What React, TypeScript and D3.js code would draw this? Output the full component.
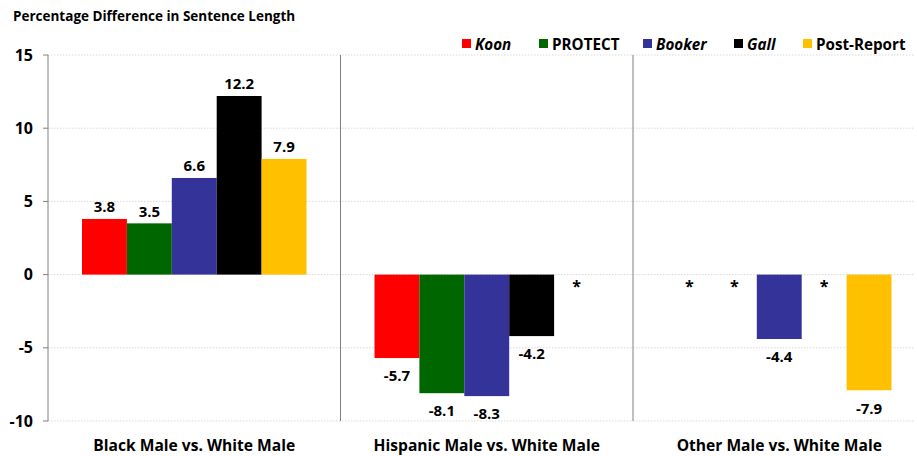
import React from "react";
import * as d3 from "d3";

const categories = ["Black Male vs. White Male", "Hispanic Male vs. White Male", "Other Male vs. White Male"];
const seriesNames = ["Koon", "PROTECT", "Booker", "Gall", "Post-Report"];
const seriesItalic = [true, false, true, true, false];
const seriesColors = ["#FF0000", "#006600", "#333399", "#000000", "#FFC000"];
// null = not reported (asterisk)
const koon: (number | null)[] = [3.8, -5.7, null];
const protect: (number | null)[] = [3.5, -8.1, null];
const booker: (number | null)[] = [6.6, -8.3, -4.4];
const gall: (number | null)[] = [12.2, -4.2, null];
const postReport: (number | null)[] = [7.9, null, -7.9];
const seriesValues = [koon, protect, booker, gall, postReport];
const yTicks = [-10, -5, 0, 5, 10, 15];

const FONT = "'Century Gothic', 'Open Sans', Lato, sans-serif";

export default function App() {
  const W = 917, H = 456;
  const x0 = 48, bandW = 292.5;
  const x = d3.scaleBand<string>().domain(categories).range([x0, x0 + bandW * 3]).paddingInner(0).paddingOuter(0);
  const y = d3.scaleLinear().domain([-10, 15]).range([421, 55]);
  const groupPad = 34;
  const xs = d3.scaleBand<string>().domain(seriesNames).range([groupPad, bandW - groupPad]).padding(0);
  const gridRight = 915;

  const legendX = [462, 539, 643, 734, 803];

  return (
    <svg width={W} height={H} style={{ position: "absolute", left: 0, top: 0, background: "#fff" }} fontFamily={FONT}>
      <text x={13} y={21} fontSize={13.5} fontWeight="bold" fill="#000">Percentage Difference in Sentence Length</text>
      {/* legend */}
      {seriesNames.map((s, i) => (
        <g key={s}>
          <rect x={legendX[i]} y={39} width={9} height={9} fill={seriesColors[i]} />
          <text x={legendX[i] + 13} y={49.5} fontSize={15.2} fontWeight="bold" fontStyle={seriesItalic[i] ? "italic" : "normal"} fill="#000">{s}</text>
        </g>
      ))}
      {/* grid */}
      {yTicks.map((t) => (
        <g key={t}>
          <line x1={x0} x2={gridRight} y1={y(t)} y2={y(t)} stroke="#d9d9d9" strokeWidth={1} strokeDasharray="1.5,1.5" />
          <line x1={x0 - 5} x2={x0} y1={y(t)} y2={y(t)} stroke="#808080" strokeWidth={1} />
          <text x={33} y={y(t)} dy="0.35em" textAnchor="end" fontSize={16} fontWeight="bold" fill="#000">{t}</text>
        </g>
      ))}
      <line x1={x0} x2={x0} y1={y(15)} y2={y(-10)} stroke="#808080" strokeWidth={1} />
      {categories.slice(1).map((c) => (
        <line key={c} x1={x(c)!} x2={x(c)!} y1={y(15)} y2={y(-10)} stroke="#808080" strokeWidth={1} />
      ))}
      {/* bars */}
      {categories.map((c, ci) => (
        <g key={c} transform={`translate(${x(c)},0)`}>
          {seriesNames.map((s, si) => {
            const v = seriesValues[si][ci];
            const bx = xs(s)!;
            const cx = bx + xs.bandwidth() / 2;
            if (v === null) {
              return <text key={s} x={cx} y={y(0) + 17} textAnchor="middle" fontSize={16} fontWeight="bold" fill="#000">*</text>;
            }
            const top = Math.min(y(v), y(0));
            const h = Math.abs(y(v) - y(0));
            const ly = v >= 0 ? y(v) - 12 : y(v) + 18;
            return (
              <g key={s}>
                <rect x={bx} y={top} width={xs.bandwidth()} height={h} fill={seriesColors[si]} />
                <text x={cx} y={ly} dy="0.35em" textAnchor="middle" fontSize={15} fontWeight="bold" fill="#000">{v.toFixed(1)}</text>
              </g>
            );
          })}
          <text x={bandW / 2} y={446} dy="0.35em" textAnchor="middle" fontSize={15.6} fontWeight="bold" fill="#000">{c}</text>
        </g>
      ))}
    </svg>
  );
}
